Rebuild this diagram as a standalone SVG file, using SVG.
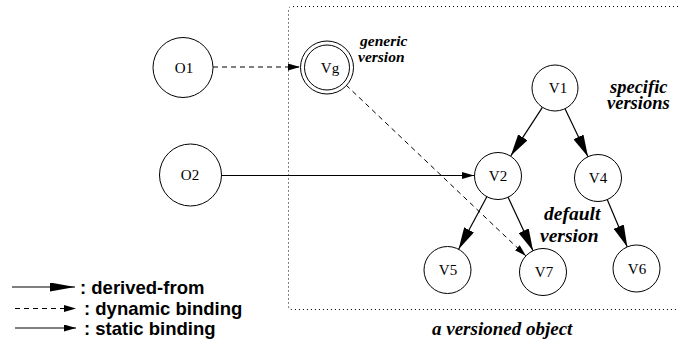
<svg xmlns="http://www.w3.org/2000/svg" width="678" height="351" viewBox="0 0 678 351">
  <style>
    .node { fill: #fff; stroke: #000; stroke-width: 1; }
    .nlabel { font-family: "Liberation Serif", "Times New Roman", serif; font-size: 15px; text-anchor: middle; fill: #000; }
    .note { font-family: "Liberation Serif", "Times New Roman", serif; font-weight: bold; font-style: italic; fill: #000; }
    .note-s { font-size: 15.5px; }
    .note-m { font-size: 18.5px; }
    .note-l { font-size: 19.5px; }
    .caption { font-size: 19px; }
    .legend { font-family: "Liberation Sans", Arial, sans-serif; font-size: 18.5px; font-weight: bold; fill: #000; }
    .derived { stroke: #000; stroke-width: 1.2; fill: none; marker-end: url(#bigHead); }
    .dynamic { stroke: #000; stroke-width: 1; fill: none; stroke-dasharray: 5 4; marker-end: url(#smallHead); }
    .static { stroke: #000; stroke-width: 1; fill: none; marker-end: url(#smallHead); }
    .frame { stroke: #000; stroke-width: 1; fill: none; stroke-dasharray: 1 3; }
  </style>
  <defs>
    <marker id="bigHead" markerUnits="userSpaceOnUse" markerWidth="22" markerHeight="11" refX="22" refY="5.5" orient="auto">
      <path d="M0,0 L22,5.5 L0,11 z" fill="#000"/>
    </marker>
    <marker id="legendHead" markerUnits="userSpaceOnUse" markerWidth="25" markerHeight="9" refX="25" refY="4.5" orient="auto">
      <path d="M0,0 L25,4.5 L0,9 z" fill="#000"/>
    </marker>
    <marker id="smallHead" markerUnits="userSpaceOnUse" markerWidth="12" markerHeight="7" refX="12" refY="3.5" orient="auto">
      <path d="M0,0 L12,3.5 L0,7 z" fill="#000"/>
    </marker>
  </defs>

  <!-- dotted boundary of the versioned object (open to the right) -->
  <path class="frame" d="M678,6.5 H292 Q288.5,6.5 288.5,10 V306 Q288.5,309.5 292,309.5 H678"/>

  <!-- connectors -->
  <g id="connectors">
    <line class="dynamic" x1="213" y1="67" x2="300" y2="67"/>
    <line class="static" x1="222" y1="175.5" x2="474" y2="175.5"/>
    <line class="dynamic" x1="346" y1="85" x2="526" y2="256"/>
    <line class="derived" x1="542.4" y1="107.3" x2="510.8" y2="155.8"/>
    <line class="derived" x1="565" y1="108.8" x2="588" y2="156.8"/>
    <line class="derived" x1="487" y1="196.5" x2="458.6" y2="249.3"/>
    <line class="derived" x1="508" y1="197" x2="533" y2="250.7"/>
    <line class="derived" x1="607.2" y1="199.6" x2="627.3" y2="246.9"/>
  </g>

  <!-- nodes -->
  <g id="O1">
    <circle class="node" cx="183" cy="67.5" r="30"/>
    <text class="nlabel" x="184" y="73">O1</text>
  </g>
  <g id="O2">
    <circle class="node" cx="190.5" cy="175" r="31"/>
    <text class="nlabel" x="190" y="180">O2</text>
  </g>
  <g id="Vg">
    <circle class="node" cx="327" cy="67.5" r="26.5"/>
    <circle class="node" cx="327" cy="67.5" r="22.5"/>
    <text class="nlabel" x="330" y="73">Vg</text>
  </g>
  <g id="V1">
    <circle class="node" cx="555" cy="88" r="23"/>
    <text class="nlabel" x="558" y="93">V1</text>
  </g>
  <g id="V2">
    <circle class="node" cx="498" cy="176" r="23.5"/>
    <text class="nlabel" x="498" y="181">V2</text>
  </g>
  <g id="V4">
    <circle class="node" cx="598" cy="178" r="23.5"/>
    <text class="nlabel" x="598" y="183">V4</text>
  </g>
  <g id="V5">
    <circle class="node" cx="447.5" cy="270" r="23.5"/>
    <text class="nlabel" x="448" y="275">V5</text>
  </g>
  <g id="V7">
    <circle class="node" cx="543" cy="272" r="23.5"/>
    <text class="nlabel" x="544" y="277">V7</text>
  </g>
  <g id="V6">
    <circle class="node" cx="636.5" cy="268.5" r="23.5"/>
    <text class="nlabel" x="637" y="274">V6</text>
  </g>

  <!-- annotations -->
  <g id="annotations">
    <text class="note note-s" x="360" y="46">generic</text>
    <text class="note note-s" x="358" y="62">version</text>
    <text class="note note-m" x="610" y="93">specific</text>
    <text class="note note-m" x="607" y="109">versions</text>
    <text class="note note-l" x="544" y="219.5">default</text>
    <text class="note note-l" x="540" y="241.5">version</text>
    <text class="note caption" x="432" y="334.5">a versioned object</text>
  </g>

  <!-- legend -->
  <g id="legend">
    <line stroke="#000" stroke-width="1.2" marker-end="url(#legendHead)" x1="12" y1="287" x2="75" y2="287"/>
    <text class="legend" x="80" y="293.5">: derived-from</text>
    <line class="dynamic" x1="15" y1="308.5" x2="76" y2="308.5"/>
    <text class="legend" x="84" y="315">: dynamic binding</text>
    <line class="static" x1="15" y1="328" x2="76" y2="328"/>
    <text class="legend" x="84" y="334.5">: static binding</text>
  </g>
</svg>
